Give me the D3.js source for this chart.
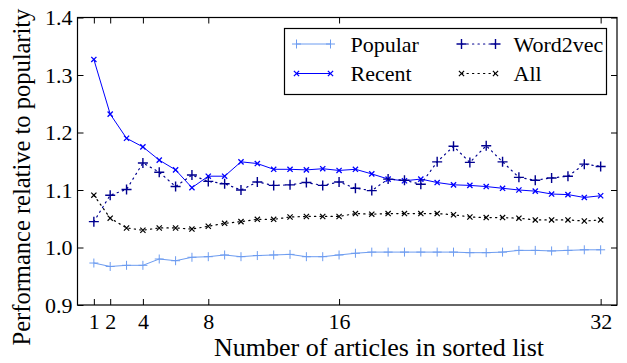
<!DOCTYPE html>
<html>
<head>
<meta charset="utf-8">
<script src="https://cdn.jsdelivr.net/npm/d3@7/dist/d3.min.js"></script>
<style>
  html, body { margin: 0; padding: 0; background: #fff; }
  svg { display: block; }
</style>
</head>
<body>
<svg id="chart" width="627" height="363"></svg>
<script>
// Number of articles in the sorted list (x positions of every point)
const articleCounts = d3.range(1, 33);

// Performance relative to popularity, one value per list length
const popular = [0.973, 0.967, 0.969, 0.969, 0.980, 0.977, 0.983, 0.984, 0.987, 0.984,
                 0.986, 0.987, 0.988, 0.984, 0.984, 0.987, 0.990, 0.992, 0.992, 0.992,
                 0.992, 0.992, 0.992, 0.991, 0.991, 0.992, 0.995, 0.995, 0.994, 0.995,
                 0.996, 0.996];
const recent = [1.327, 1.232, 1.190, 1.175, 1.152, 1.135, 1.104, 1.124, 1.124, 1.149,
                1.146, 1.136, 1.136, 1.135, 1.137, 1.134, 1.136, 1.128, 1.119, 1.116,
                1.119, 1.113, 1.109, 1.108, 1.106, 1.103, 1.100, 1.098, 1.093, 1.092,
                1.087, 1.090];
const word2vec = [1.045, 1.091, 1.101, 1.147, 1.131, 1.106, 1.126, 1.115, 1.111, 1.100,
                  1.114, 1.108, 1.109, 1.113, 1.108, 1.114, 1.103, 1.099, 1.119, 1.117,
                  1.110, 1.149, 1.176, 1.148, 1.177, 1.149, 1.122, 1.117, 1.121, 1.124,
                  1.145, 1.141];
const all = [1.091, 1.051, 1.034, 1.030, 1.034, 1.034, 1.032, 1.037, 1.042, 1.045,
             1.049, 1.049, 1.053, 1.054, 1.054, 1.054, 1.059, 1.058, 1.059, 1.059,
             1.059, 1.059, 1.057, 1.053, 1.052, 1.052, 1.051, 1.048, 1.048, 1.048,
             1.046, 1.048];

// Tick labels
const xTicks = [1, 2, 4, 8, 16, 32];
const yTicks = [0.9, 1.0, 1.1, 1.2, 1.3, 1.4];

const seriesNames = ["Popular", "Recent", "Word2vec", "All"];

// Drawing styles for each series
const styles = {
  "Popular":  { color: "#6d9cf0", marker: "plus",  size: 4.5, width: 1,   markerWidth: 1,   dash: null },
  "Recent":   { color: "#0000ff", marker: "cross", size: 2.6, width: 1,   markerWidth: 1.3, dash: null },
  "Word2vec": { color: "#000090", marker: "plus",  size: 5,   width: 1.2, markerWidth: 1.4, dash: "1.3,4.2" },
  "All":      { color: "#000000", marker: "cross", size: 2.6, width: 1.2, markerWidth: 1.2, dash: "1.3,4.2" }
};
const seriesData = { "Popular": popular, "Recent": recent, "Word2vec": word2vec, "All": all };

// Serif text helper
function serifText(sel, size) {
  return sel.style("font-family", "'Times New Roman'")
    .style("font-size", size + "px")
    .style("fill", "#000");
}

const margin = { top: 17.5, right: 10, bottom: 58, left: 77.5 };
const width = 627, height = 363;
const innerW = width - margin.left - margin.right;
const innerH = height - margin.top - margin.bottom;

const svg = d3.select("#chart");
const g = svg.append("g").attr("transform", `translate(${margin.left},${margin.top})`);

const x = d3.scaleLinear().domain([0, 33]).range([0, innerW]);
const y = d3.scaleLinear().domain([0.9, 1.4]).range([innerH, 0]);

const tickLen = 6;
const tickFont = 22;

function markerPath(type, r) {
  if (type === "plus") return `M${-r},0H${r}M0,${-r}V${r}`;
  return `M${-r},${-r}L${r},${r}M${-r},${r}L${r},${-r}`;
}

// Axes with inward ticks on all four sides
const xAxis = g.append("g").attr("transform", `translate(0,${innerH})`)
  .call(d3.axisBottom(x).tickValues(xTicks).tickFormat(d3.format("d"))
    .tickSizeInner(-tickLen).tickSizeOuter(0).tickPadding(8));
const xAxisTop = g.append("g")
  .call(d3.axisTop(x).tickValues(xTicks).tickFormat("")
    .tickSizeInner(-tickLen).tickSizeOuter(0));
const yAxis = g.append("g")
  .call(d3.axisLeft(y).tickValues(yTicks).tickFormat(d3.format(".1f"))
    .tickSizeInner(-tickLen).tickSizeOuter(0).tickPadding(5));
const yAxisRight = g.append("g").attr("transform", `translate(${innerW},0)`)
  .call(d3.axisRight(y).tickValues(yTicks).tickFormat("")
    .tickSizeInner(-tickLen).tickSizeOuter(0));

[xAxis, xAxisTop, yAxis, yAxisRight].forEach(a => {
  a.select(".domain").remove();
  a.selectAll(".tick line").attr("stroke", "#000").attr("stroke-width", 1);
  serifText(a.selectAll("text"), tickFont);
});
// Baseline offsets in pixels instead of em-based dy
xAxis.selectAll(".tick text").attr("dy", null).attr("y", 8 + 0.71 * tickFont);
yAxis.selectAll(".tick text").attr("dy", null).attr("y", 0.32 * tickFont);

// Series lines and markers
const line = d3.line().x((d, i) => x(articleCounts[i])).y(d => y(d));

seriesNames.forEach(name => {
  const s = styles[name];
  const vals = seriesData[name];
  g.append("path").datum(vals)
    .attr("fill", "none")
    .attr("stroke", s.color)
    .attr("stroke-width", s.width)
    .attr("stroke-dasharray", s.dash)
    .attr("stroke-linecap", s.dash ? "round" : "butt")
    .attr("d", line);
  g.append("g").selectAll("path").data(vals).join("path")
    .attr("transform", (d, i) => `translate(${x(articleCounts[i])},${y(d)})`)
    .attr("d", markerPath(s.marker, s.size))
    .attr("fill", "none")
    .attr("stroke", s.color)
    .attr("stroke-width", s.markerWidth);
});

// Frame
g.append("rect")
  .attr("x", 0).attr("y", 0).attr("width", innerW).attr("height", innerH)
  .attr("fill", "none").attr("stroke", "#000").attr("stroke-width", 1.2);

// Axis titles
serifText(svg.append("text"), 26)
  .attr("x", 379).attr("y", 356)
  .attr("text-anchor", "middle")
  .text("Number of articles in sorted list");

serifText(svg.append("text"), 24.5)
  .attr("transform", "translate(30,177) rotate(-90)")
  .attr("text-anchor", "middle")
  .text("Performance relative to popularity");

// Legend, two columns of two entries
const legend = svg.append("g").attr("transform", "translate(284.5,28.5)");
legend.append("rect")
  .attr("width", 322).attr("height", 66)
  .attr("fill", "#fff").attr("stroke", "#000").attr("stroke-width", 1.2);

const legendCols = [[12, 66], [177, 229]];   // [line start, text start] per column
const legendRows = [15.5, 45];
const lineLen = 34;
const legendFont = 22;

seriesNames.forEach((name, i) => {
  const col = Math.floor(i / 2), row = i % 2;
  const s = styles[name];
  const lx = legendCols[col][0], tx = legendCols[col][1], ly = legendRows[row];
  legend.append("line")
    .attr("x1", lx).attr("x2", lx + lineLen).attr("y1", ly).attr("y2", ly)
    .attr("stroke", s.color).attr("stroke-width", s.width)
    .attr("stroke-dasharray", s.dash)
    .attr("stroke-linecap", s.dash ? "round" : "butt");
  [lx, lx + lineLen].forEach(mx => {
    legend.append("path")
      .attr("transform", `translate(${mx},${ly})`)
      .attr("d", markerPath(s.marker, s.size))
      .attr("fill", "none").attr("stroke", s.color).attr("stroke-width", s.markerWidth);
  });
  serifText(legend.append("text"), legendFont)
    .attr("x", tx).attr("y", ly + 0.35 * legendFont)
    .text(name);
});
</script>
</body>
</html>
